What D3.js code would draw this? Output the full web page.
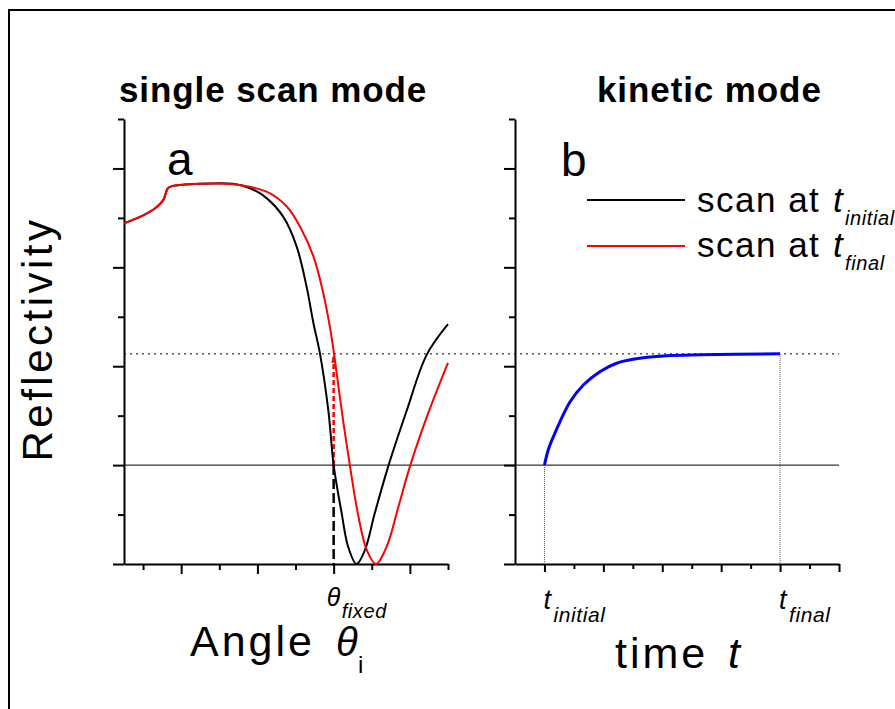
<!DOCTYPE html>
<html>
<head>
<meta charset="utf-8">
<script src="https://cdn.jsdelivr.net/npm/d3@7"></script>
<style>
  body { margin: 0; background: #fff; }
  svg text { font-family: "Liberation Sans", Arial, sans-serif; fill: #000; }
</style>
</head>
<body>
<svg width="895" height="709"></svg>
<script>
const svg = d3.select("svg");

// single scan mode: reflectivity vs angle (deg)
var angleInitial = [63.5, 63.92, 64.31, 64.53, 64.65, 64.75, 65.49, 66.36, 66.81, 67.24, 67.68, 68.03, 68.29, 68.47, 68.64, 68.86, 69.0, 69.21, 69.38, 69.6, 69.82, 70.08, 70.43, 70.92, 71.44, 72.0];
var reflInitial = [0.689, 0.702, 0.719, 0.736, 0.760, 0.764, 0.769, 0.769, 0.760, 0.740, 0.702, 0.642, 0.561, 0.487, 0.426, 0.311, 0.2, 0.103, 0.035, 0.0, 0.028, 0.103, 0.197, 0.311, 0.423, 0.485];
var angleFinal = [63.5, 63.92, 64.31, 64.53, 64.65, 64.75, 65.49, 66.36, 67.24, 67.77, 68.12, 68.47, 68.73, 68.9, 69.01, 69.21, 69.43, 69.65, 69.87, 70.11, 70.39, 70.7, 71.0, 71.48, 72.0];
var reflFinal = [0.689, 0.702, 0.719, 0.736, 0.760, 0.764, 0.769, 0.768, 0.753, 0.723, 0.682, 0.622, 0.547, 0.480, 0.426, 0.311, 0.197, 0.096, 0.028, 0.0, 0.035, 0.116, 0.197, 0.305, 0.407];

// kinetic mode: reflectivity vs time at the fixed angle
var timeKinetic = [1.0, 1.13, 1.3, 1.87, 2.32, 2.88, 3.45, 4.01, 5.15, 6.28, 9.0];
var reflKinetic = [0.2, 0.231, 0.257, 0.328, 0.362, 0.389, 0.406, 0.414, 0.421, 0.423, 0.425];

var THETA_FIXED = 69;
var T_INITIAL = 1;
var T_FINAL = 9;
var R_START = 0.2; // solid reference line
var R_END = 0.425; // dotted reference line

var yMajor = [0, 0.2, 0.4, 0.6, 0.8];
var yMinor = [0.1, 0.3, 0.5, 0.7, 0.9];
var angleMajor = [65, 67, 69, 71];
var angleMinor = [64, 66, 68, 70, 72];
var timeMajor = [1, 3, 5, 7, 9, 11];
var timeMinor = [2, 4, 6, 8, 10];

var titles = ["single scan mode", "kinetic mode"];
var legendLabels = ["initial", "final"];
var legendColors = ["#000", "#ff0000"];

////////////////////////// SCALES //////////////////////////

var yScale = d3.scaleLinear().domain([0, 0.9]).range([564, 119]);
var xAngle = d3.scaleLinear().domain([63.5, 72]).range([124, 448]);
var xTime = d3.scaleLinear().domain([0, 11]).range([515, 839]);

// outer frame, runs off the right and bottom edges
svg.append("rect")
  .attr("x", 9).attr("y", 10)
  .attr("width", 1000).attr("height", 1000)
  .attr("fill", "none").attr("stroke", "#000").attr("stroke-width", 2);

////////////////////////// AXES //////////////////////////

function drawAxis(g, axis, width) {
  g.call(axis);
  g.selectAll("path.domain").attr("stroke-width", width);
  g.selectAll(".tick line").attr("stroke-width", 2);
  g.selectAll(".tick text").remove();
}

function yAxes(x) {
  var major = svg.append("g").attr("transform", "translate(" + x + ",0)");
  drawAxis(major, d3.axisLeft(yScale).tickValues(yMajor).tickSize(11).tickSizeOuter(0), 2);
  var minor = svg.append("g").attr("transform", "translate(" + x + ",0)");
  drawAxis(minor, d3.axisLeft(yScale).tickValues(yMinor).tickSize(6).tickSizeOuter(0), 0);
  minor.select("path.domain").remove();
}

function xAxes(scale, majorVals, minorVals, majorSize, minorSize) {
  var major = svg.append("g").attr("transform", "translate(0," + yScale(0) + ")");
  drawAxis(major, d3.axisBottom(scale).tickValues(majorVals).tickSize(majorSize).tickSizeOuter(0), 2);
  var minor = svg.append("g").attr("transform", "translate(0," + yScale(0) + ")");
  drawAxis(minor, d3.axisBottom(scale).tickValues(minorVals).tickSize(minorSize).tickSizeOuter(0), 0);
  minor.select("path.domain").remove();
}

yAxes(xAngle.range()[0]);
yAxes(xTime.range()[0]);
xAxes(xAngle, angleMajor, angleMinor, 10, 6);
xAxes(xTime, timeMajor, timeMinor, 8, 5);

////////////////////////// REFERENCE LINES //////////////////////////

svg.append("line")
  .attr("x1", xAngle.range()[0]).attr("x2", xTime.range()[1])
  .attr("y1", yScale(R_START)).attr("y2", yScale(R_START))
  .attr("stroke", "#000").attr("stroke-width", 1);

svg.append("line")
  .attr("x1", xAngle.range()[0]).attr("x2", xTime.range()[1])
  .attr("y1", yScale(R_END)).attr("y2", yScale(R_END))
  .attr("stroke", "#000").attr("stroke-width", 1)
  .attr("stroke-dasharray", "2,4");

// thin dotted drops in the kinetic panel
[[T_INITIAL, R_START], [T_FINAL, R_END]].forEach(function (d) {
  svg.append("line")
    .attr("x1", xTime(d[0])).attr("x2", xTime(d[0]))
    .attr("y1", yScale(d[1])).attr("y2", yScale(0))
    .attr("stroke", "#555").attr("stroke-width", 1)
    .attr("stroke-dasharray", "1,1");
});

// black dashed drop at theta fixed
svg.append("line")
  .attr("x1", xAngle(THETA_FIXED)).attr("x2", xAngle(THETA_FIXED))
  .attr("y1", yScale(R_START)).attr("y2", yScale(0))
  .attr("stroke", "#000").attr("stroke-width", 2.5)
  .attr("stroke-dasharray", "10,4");

// red dashed arrow up to the final scan
svg.append("line")
  .attr("x1", xAngle(THETA_FIXED)).attr("x2", xAngle(THETA_FIXED))
  .attr("y1", yScale(R_START)).attr("y2", yScale(R_END) + 3)
  .attr("stroke", "#ff0000").attr("stroke-width", 2.5)
  .attr("stroke-dasharray", "5,3");
svg.append("path")
  .attr("d", "M" + (xAngle(THETA_FIXED) - 2.5) + "," + (yScale(R_END) + 9) +
    " L" + xAngle(THETA_FIXED) + "," + (yScale(R_END) + 2) +
    " L" + (xAngle(THETA_FIXED) + 2.5) + "," + (yScale(R_END) + 9) + " Z")
  .attr("fill", "#ff0000");

////////////////////////// CURVES //////////////////////////

function curve(xs, ys, xScale) {
  return d3.line()
    .x(function (d, i) { return xScale(xs[i]); })
    .y(function (d, i) { return yScale(ys[i]); })
    .curve(d3.curveCatmullRom.alpha(0.5))(xs);
}

svg.append("path")
  .attr("d", curve(angleInitial, reflInitial, xAngle))
  .attr("fill", "none").attr("stroke", "#000").attr("stroke-width", 2);

svg.append("path")
  .attr("d", curve(angleFinal, reflFinal, xAngle))
  .attr("fill", "none").attr("stroke", "#ff0000").attr("stroke-width", 2);

svg.append("path")
  .attr("d", curve(timeKinetic, reflKinetic, xTime))
  .attr("fill", "none").attr("stroke", "#0000ff").attr("stroke-width", 3);

////////////////////////// TEXT //////////////////////////

function label(x, y, str, size, opts) {
  opts = opts || {};
  return svg.append("text")
    .attr("x", x).attr("y", y)
    .attr("font-size", size)
    .attr("font-weight", opts.bold ? "bold" : "normal")
    .attr("font-style", opts.italic ? "italic" : "normal")
    .attr("letter-spacing", opts.ls || 0)
    .attr("text-anchor", opts.anchor || "start")
    .text(str);
}

label(119, 102, titles[0], 35, { bold: true, ls: 0.9 });
label(597, 102, titles[1], 35, { bold: true, ls: 0.9 });

label(167, 175, "a", 46);
label(561, 176, "b", 46);

// legend
legendLabels.forEach(function (name, i) {
  var ly = [200, 246][i];
  var by = [212, 257][i];
  svg.append("line")
    .attr("x1", 587).attr("x2", 685)
    .attr("y1", ly).attr("y2", ly)
    .attr("stroke", legendColors[i]).attr("stroke-width", 2);
  label(697, by, "scan at", 35, { ls: 1.5 });
  label(833, by, "t", 35, { italic: true });
  label(845, by + 13, name, 20, { italic: true, ls: 0.6 });
});

// y title
svg.append("text")
  .attr("transform", "translate(52,339) rotate(-90)")
  .attr("text-anchor", "middle")
  .attr("font-size", 42)
  .attr("letter-spacing", 3.5)
  .text("Reflectivity");

// x titles
label(190, 656, "Angle", 43, { ls: 3 });
label(336, 656, "\u03b8", 40, { italic: true });
label(358, 673, "i", 24);

label(615, 668, "time", 43, { ls: 3 });
label(728, 668, "t", 43, { italic: true });

// special tick labels
label(xAngle(THETA_FIXED) - 7, 606, "\u03b8", 25, { italic: true });
label(xAngle(THETA_FIXED) + 8, 618, "fixed", 20, { italic: true, ls: 0.6 });

label(xTime(T_INITIAL) - 1, 609, "t", 27, { italic: true });
label(xTime(T_INITIAL) + 9, 622, "initial", 21, { italic: true, ls: 0.6 });
label(xTime(T_FINAL) - 1, 609, "t", 27, { italic: true });
label(xTime(T_FINAL) + 9, 622, "final", 21, { italic: true, ls: 0.6 });
</script>
</body>
</html>
